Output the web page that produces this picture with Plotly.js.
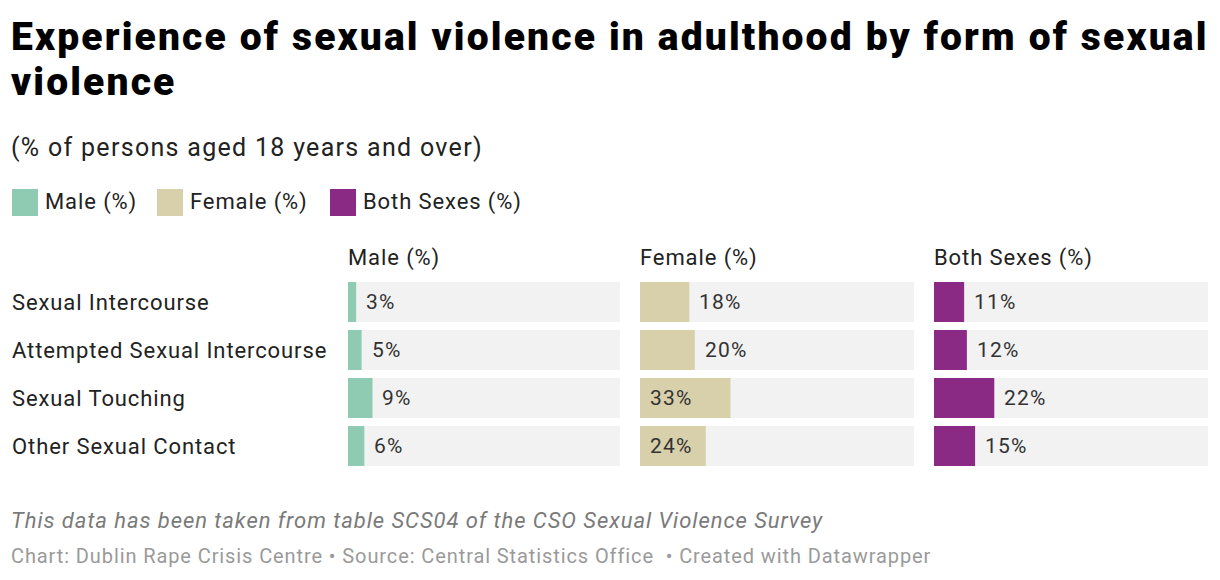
<!DOCTYPE html>
<html>
<head>
<meta charset="utf-8">
<script src="https://cdn.plot.ly/plotly-3.0.1.min.js"></script>
<style>
html,body{margin:0;padding:0;background:#fff;}
#chart{width:1220px;height:580px;}
</style>
</head>
<body>
<div id="chart"></div>
<script>
const categories = ["Sexual Intercourse", "Attempted Sexual Intercourse", "Sexual Touching", "Other Sexual Contact"];
const seriesNames = ["Male (%)", "Female (%)", "Both Sexes (%)"];
const maleValues = [3, 5, 9, 6];
const femaleValues = [18, 20, 33, 24];
const bothValues = [11, 12, 22, 15];
const seriesColors = ["#8fcbb2", "#d8cfab", "#8b2a84"];
const scaleMax = 100;

const W = 1220, H = 580;
const px = v => v / W;
const py = v => (H - v) / H;
const ls = (t, s) => '<span style="letter-spacing:' + s + 'px">' + t + '</span>';

const seriesValues = [maleValues, femaleValues, bothValues];
const domains = [[348, 620], [640, 914], [934, 1208]];
const FONT = "Roboto, 'Noto Sans', Arial, sans-serif";

const traces = [];
const annotations = [];
const layout = {
  width: W, height: H,
  margin: {l: 0, r: 0, t: 0, b: 0},
  paper_bgcolor: "#ffffff",
  plot_bgcolor: "rgba(0,0,0,0)",
  barmode: "overlay",
  bargap: 8 / 48,
  showlegend: false,
  font: {family: FONT, color: "#222"},
  yaxis: {
    type: "category",
    categoryorder: "array",
    categoryarray: categories,
    autorange: "reversed",
    domain: [py(470), py(278)],
    visible: false,
    fixedrange: true
  },
  shapes: [],
  annotations: annotations
};

seriesValues.forEach((vals, i) => {
  const ax = i === 0 ? "x" : "x" + (i + 1);
  const axKey = i === 0 ? "xaxis" : "xaxis" + (i + 1);
  layout[axKey] = {
    domain: [px(domains[i][0]), px(domains[i][1])],
    range: [0, scaleMax],
    visible: false,
    fixedrange: true
  };
  traces.push({
    type: "bar", orientation: "h",
    x: categories.map(() => scaleMax), y: categories,
    xaxis: ax, yaxis: "y",
    marker: {color: "#f2f2f2"},
    hoverinfo: "skip"
  });
  traces.push({
    type: "bar", orientation: "h",
    x: vals, y: categories,
    xaxis: ax, yaxis: "y",
    name: seriesNames[i],
    marker: {color: seriesColors[i]},
    hovertemplate: "%{y}: %{x}%<extra>" + seriesNames[i] + "</extra>"
  });
  vals.forEach((v, j) => {
    annotations.push({
      xref: ax, yref: "y",
      x: v > 22 ? 0 : v, y: categories[j],
      xshift: 8, xanchor: "left", yanchor: "middle",
      text: ls(v + "%", 1.2), showarrow: false,
      font: {size: 21, color: "#333", family: FONT}
    });
  });
  // panel header
  annotations.push({
    xref: "paper", yref: "paper",
    x: px(domains[i][0] - 2), y: py(258),
    xanchor: "left", yanchor: "middle",
    text: ls(seriesNames[i], 0.9), showarrow: false,
    font: {size: 22, color: "#222", family: FONT}
  });
});

// row labels
categories.forEach(c => {
  annotations.push({
    xref: "paper", yref: "y",
    x: px(10), y: c, xanchor: "left", yanchor: "middle",
    text: ls(c, 0.9), showarrow: false,
    font: {size: 22, color: "#222", family: FONT}
  });
});

// legend
const legendX = [12, 157, 330];
seriesNames.forEach((n, i) => {
  layout.shapes.push({
    type: "rect", xref: "paper", yref: "paper",
    x0: px(legendX[i]), x1: px(legendX[i] + 26),
    y0: py(216), y1: py(189),
    fillcolor: seriesColors[i], line: {width: 0}
  });
  annotations.push({
    xref: "paper", yref: "paper",
    x: px(legendX[i] + 31), y: py(202),
    xanchor: "left", yanchor: "middle",
    text: ls(n, 0.9), showarrow: false,
    font: {size: 22, color: "#222", family: FONT}
  });
});

// title (two lines), subtitle, notes
const titleLines = ["Experience of sexual violence in adulthood by form of sexual", "violence"];
const titleCenters = [37, 82];
titleLines.forEach((t, k) => {
  annotations.push({
    xref: "paper", yref: "paper", x: px(9), y: py(titleCenters[k]),
    xanchor: "left", yanchor: "middle", align: "left",
    text: '<span style="font-weight:900;letter-spacing:2.15px">' + t + '</span>',
    showarrow: false,
    font: {size: 39, color: "#000", family: FONT, weight: 900}
  });
});
annotations.push({
  xref: "paper", yref: "paper", x: px(9), y: py(147),
  xanchor: "left", yanchor: "middle",
  text: ls("(% of persons aged 18 years and over)", 1.3),
  showarrow: false,
  font: {size: 25, color: "#222", family: FONT}
});
annotations.push({
  xref: "paper", yref: "paper", x: px(9), y: py(520),
  xanchor: "left", yanchor: "middle",
  text: "<i>" + ls("This data has been taken from table SCS04 of the CSO Sexual Violence Survey", 0.95) + "</i>",
  showarrow: false,
  font: {size: 22, color: "#7a7a7a", family: FONT}
});
annotations.push({
  xref: "paper", yref: "paper", x: px(9), y: py(556),
  xanchor: "left", yanchor: "middle",
  text: ls("Chart: Dublin Rape Crisis Centre • Source: Central Statistics Office  • Created with Datawrapper", 0.9),
  showarrow: false,
  font: {size: 20, color: "#9a9a9a", family: FONT}
});

Plotly.newPlot("chart", traces, layout, {displayModeBar: false, staticPlot: false});
</script>
</body>
</html>
